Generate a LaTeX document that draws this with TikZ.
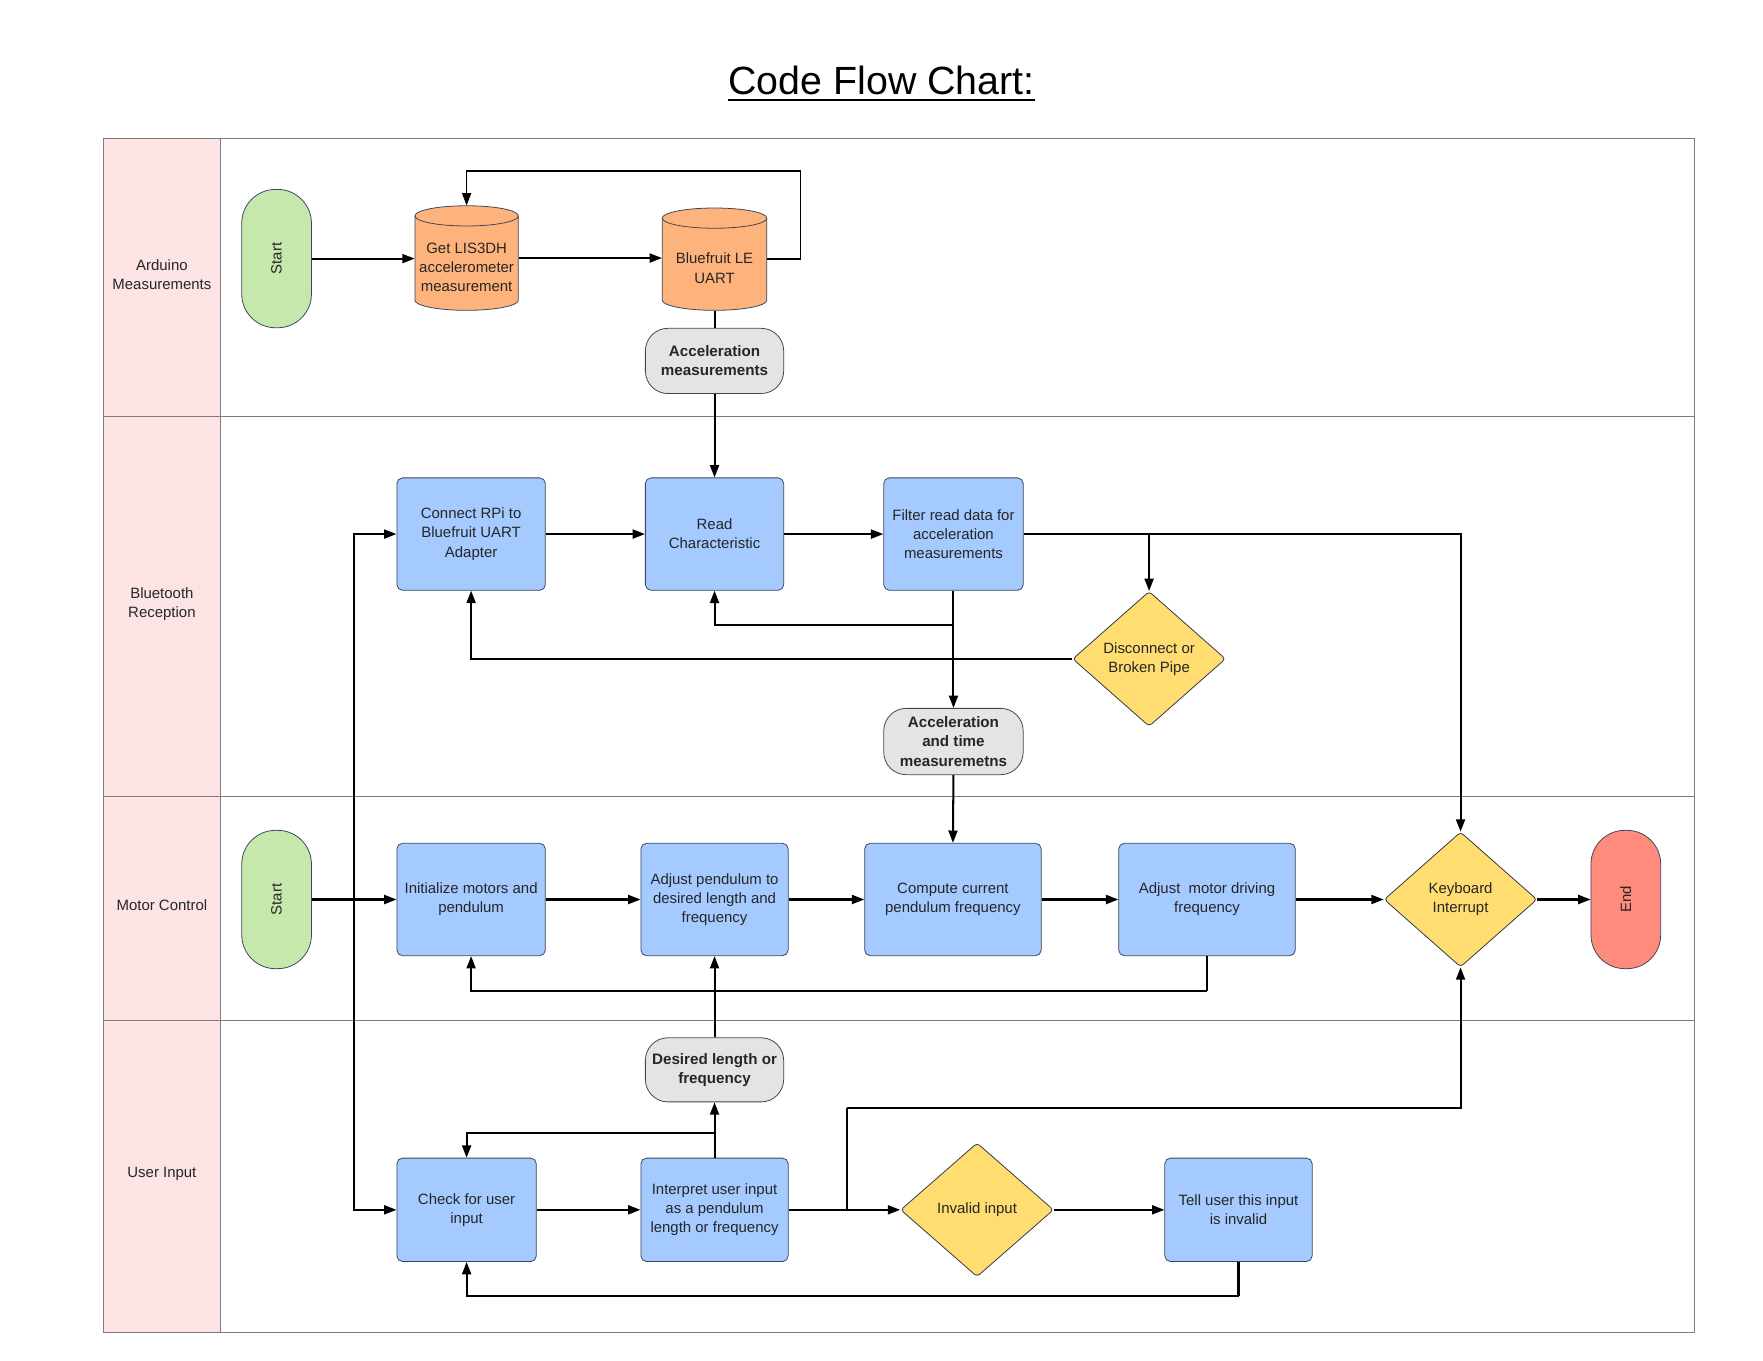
\documentclass[tikz,border=0pt]{standalone}
\usepackage{fontspec}
\usepackage{graphicx}
\setmainfont{Liberation Sans}
\usetikzlibrary{shapes.geometric,arrows.meta,calc}
\definecolor{procblue}{RGB}{164,202,255}
\definecolor{boxline}{RGB}{60,70,90}
\definecolor{decyellow}{RGB}{255,221,113}
\definecolor{cylorange}{RGB}{255,179,124}
\definecolor{termgreen}{RGB}{199,232,172}
\definecolor{termred}{RGB}{255,139,124}
\definecolor{datagray}{RGB}{228,228,228}
\definecolor{headpink}{RGB}{253,228,228}
\definecolor{laneline}{RGB}{125,125,125}
\begin{document}
\begin{tikzpicture}[x=1pt,y=1pt,
  txt/.style={font=\fontsize{13.3}{17}\selectfont, text=black!85},
  proc/.style={txt, draw=boxline, fill=procblue, rounded corners=5pt, line width=0.7pt, align=center, inner sep=2pt},
  dec/.style={txt, diamond, draw=boxline!80!black, fill=decyellow, rounded corners=3pt, line width=0.7pt, align=center, inner sep=0pt},
  term/.style={txt, draw=boxline, rounded corners=30pt, line width=0.7pt, minimum width=62pt, minimum height=123pt, inner sep=0pt},
  data/.style={txt, font=\fontsize{13.5}{17}\selectfont\bfseries, draw=boxline, fill=datagray, rounded corners=20pt, line width=0.7pt, align=center, minimum width=123pt, minimum height=58pt, inner sep=2pt},
  cylbox/.style={minimum width=92pt, minimum height=93pt, inner sep=0pt},
  cyltext/.style={txt, align=center, inner sep=0pt},
  cylsty/.style={draw=boxline, fill=cylorange, line width=0.7pt},
  lane/.style={draw=laneline, line width=0.8pt},
  lanelabel/.style={txt, align=center},
  ln/.style={line width=1.8pt},
  flow/.style={line width=1.8pt, -{Triangle[length=11pt,width=8pt]}},
  thinflow/.style={line width=1.2pt, -{Triangle[length=11pt,width=8pt]}}
]
\path[use as bounding box] (0,0) rectangle (1568,-1210);

% ---- title
\node[anchor=base, inner sep=0pt, font=\fontsize{35}{40}\selectfont] (title) at (784,-84) {Code Flow Chart:};
\draw[line width=2.5pt] ([yshift=-5pt]title.base west) -- ([yshift=-5pt]title.base east);

% ---- swimlanes
\fill[headpink] (92,-123) rectangle (196,-1185);
\draw[lane] (92,-123) rectangle (1507,-1185);
\draw[lane] (196,-123) -- (196,-1185);
\draw[lane] (92,-370) -- (1507,-370);
\draw[lane] (92,-708) -- (1507,-708);
\draw[lane] (92,-908) -- (1507,-908);
\node[lanelabel] (l1) at (144,-244) {Arduino\\Measurements};
\node[lanelabel] (l2) at (144,-537) {Bluetooth\\Reception};
\node[lanelabel] (l3) at (144,-805) {Motor Control};
\node[lanelabel] (l4) at (144,-1044) {User Input};

% ---- Arduino lane
\node[term, fill=termgreen] (s1) at (246,-230) {\rotatebox{90}{Start}};
\filldraw[cylsty] (369,-192) -- (369,-267) arc[start angle=180,end angle=360,x radius=46,y radius=9] -- (461,-192) arc[start angle=0,end angle=180,x radius=46,y radius=9] -- cycle;
\draw[cylsty, fill=none] (369,-192) arc[start angle=180,end angle=360,x radius=46,y radius=9];
\node[cylbox] (g1) at (415,-229.5) {};
\node[cyltext] (g1t) at (415,-237.5) {Get LIS3DH\\accelerometer\\measurement};
\filldraw[cylsty] (589,-194) -- (589,-267) arc[start angle=180,end angle=360,x radius=46.5,y radius=9] -- (682,-194) arc[start angle=0,end angle=180,x radius=46.5,y radius=9] -- cycle;
\draw[cylsty, fill=none] (589,-194) arc[start angle=180,end angle=360,x radius=46.5,y radius=9];
\node[cylbox, minimum width=93pt, minimum height=91pt] (b1) at (635.5,-230.5) {};
\node[cyltext] (b1t) at (635.5,-238.5) {Bluefruit LE\\UART};
\node[data] (d1) at (635.5,-321) {Acceleration\\measurements};

% ---- Bluetooth lane
\node[proc, minimum width=132pt, minimum height=100pt] (c2) at (419,-475) {Connect RPi to\\Bluefruit UART\\Adapter};
\node[proc, minimum width=123pt, minimum height=100pt] (r2) at (635.5,-475) {Read\\Characteristic};
\node[proc, minimum width=124pt, minimum height=100pt] (f2) at (848,-475) {Filter read data for\\acceleration\\measurements};
\node[dec, minimum width=136pt, minimum height=120pt] (k2) at (1022,-586) {Disconnect or\\Broken Pipe};
\node[data, minimum width=124pt, minimum height=59pt] (d2) at (848,-659.5) {Acceleration\\and time\\measuremetns};

% ---- Motor lane
\node[term, fill=termgreen] (s3) at (246,-800) {\rotatebox{90}{Start}};
\node[proc, minimum width=132pt, minimum height=100pt] (i3) at (419,-800) {Initialize motors and\\pendulum};
\node[proc, minimum width=131pt, minimum height=100pt] (a3) at (635.5,-800) {Adjust pendulum to\\desired length and\\frequency};
\node[proc, minimum width=157pt, minimum height=100pt] (cp3) at (847.5,-800) {Compute current\\pendulum frequency};
\node[proc, minimum width=157pt, minimum height=100pt] (m3) at (1073.5,-800) {Adjust\ \ motor driving\\frequency};
\node[dec, minimum width=136pt, minimum height=120pt] (kb3) at (1299,-800) {Keyboard\\Interrupt};
\node[term, fill=termred] (e3) at (1446,-800) {\rotatebox{90}{End}};

% ---- User input lane
\node[data, minimum width=123pt, minimum height=57pt] (d4) at (635.5,-951.5) {Desired length or\\frequency};
\node[proc, minimum width=124pt, minimum height=92pt] (ch4) at (415,-1076) {Check for user\\input};
\node[proc, minimum width=131pt, minimum height=92pt] (in4) at (635.5,-1076) {Interpret user input\\as a pendulum\\length or frequency};
\node[dec, minimum width=136pt, minimum height=119pt] (iv4) at (869,-1076) {Invalid input};
\node[proc, minimum width=131pt, minimum height=92pt] (t4) at (1101.5,-1076) {Tell user this input\\is invalid};

% ---- helper coordinates
\coordinate (lp) at (712,-152);
\coordinate (fj) at (848,-556);
\coordinate (mj) at (315,-800);
\coordinate (mb) at (1073.5,-881);
\coordinate (uj) at (635.5,-1008);
\coordinate (vj) at (753,-1076);
\coordinate (vk) at (753,-985);
\coordinate (tb) at (1101.5,-1153);

% ---- connectors: Arduino
\draw[flow] (s1.east) -- (g1.west |- s1.east);
\draw[flow] (g1.east) -- (b1.west |- g1.east);
\draw[thinflow] (b1.east) -| (lp) -| (g1.north);
\draw[ln] (b1.south) -- (d1.north);
\draw[flow] (d1.south) -- (r2.north);

% ---- connectors: Bluetooth
\draw[flow] (c2.east) -- (r2.west);
\draw[flow] (r2.east) -- (f2.west);
\draw[flow] (f2.east) -| (kb3.north);
\draw[flow] (f2.east -| k2.north) -- (k2.north);
\draw[flow] (k2.west) -| (c2.south);
\draw[flow] (f2.south) -- (fj) -| (r2.south);
\draw[flow] (f2.south) -- (d2.north);
\draw[flow] (d2.south) -- (cp3.north);

% ---- connectors: Motor
\draw[flow] (s3.east) -- (i3.west);
\draw[flow] (mj) |- (c2.west);
\draw[flow] (mj) |- (ch4.west);
\draw[flow] (i3.east) -- (a3.west);
\draw[flow] (a3.east) -- (cp3.west);
\draw[flow] (cp3.east) -- (m3.west);
\draw[flow] (m3.east) -- (kb3.west);
\draw[flow] (kb3.east) -- (e3.west);
\draw[ln] (m3.south) -- (mb);
\draw[flow] (mb) -| (i3.south);
\draw[flow] (d4.north) -- (a3.south);

% ---- connectors: User input
\draw[flow] (ch4.east) -- (in4.west);
\draw[flow] (in4.east) -- (iv4.west);
\draw[flow] (iv4.east) -- (t4.west);
\draw[ln] (in4.north) -- (uj);
\draw[flow] (uj) -- (d4.south);
\draw[flow] (uj) -| (ch4.north);
\draw[ln] (vj) -- (vk);
\draw[flow] (vk) -| (kb3.south);
\draw[ln] (t4.south) -- (tb);
\draw[flow] (tb) -| (ch4.south);
\end{tikzpicture}
\end{document}
